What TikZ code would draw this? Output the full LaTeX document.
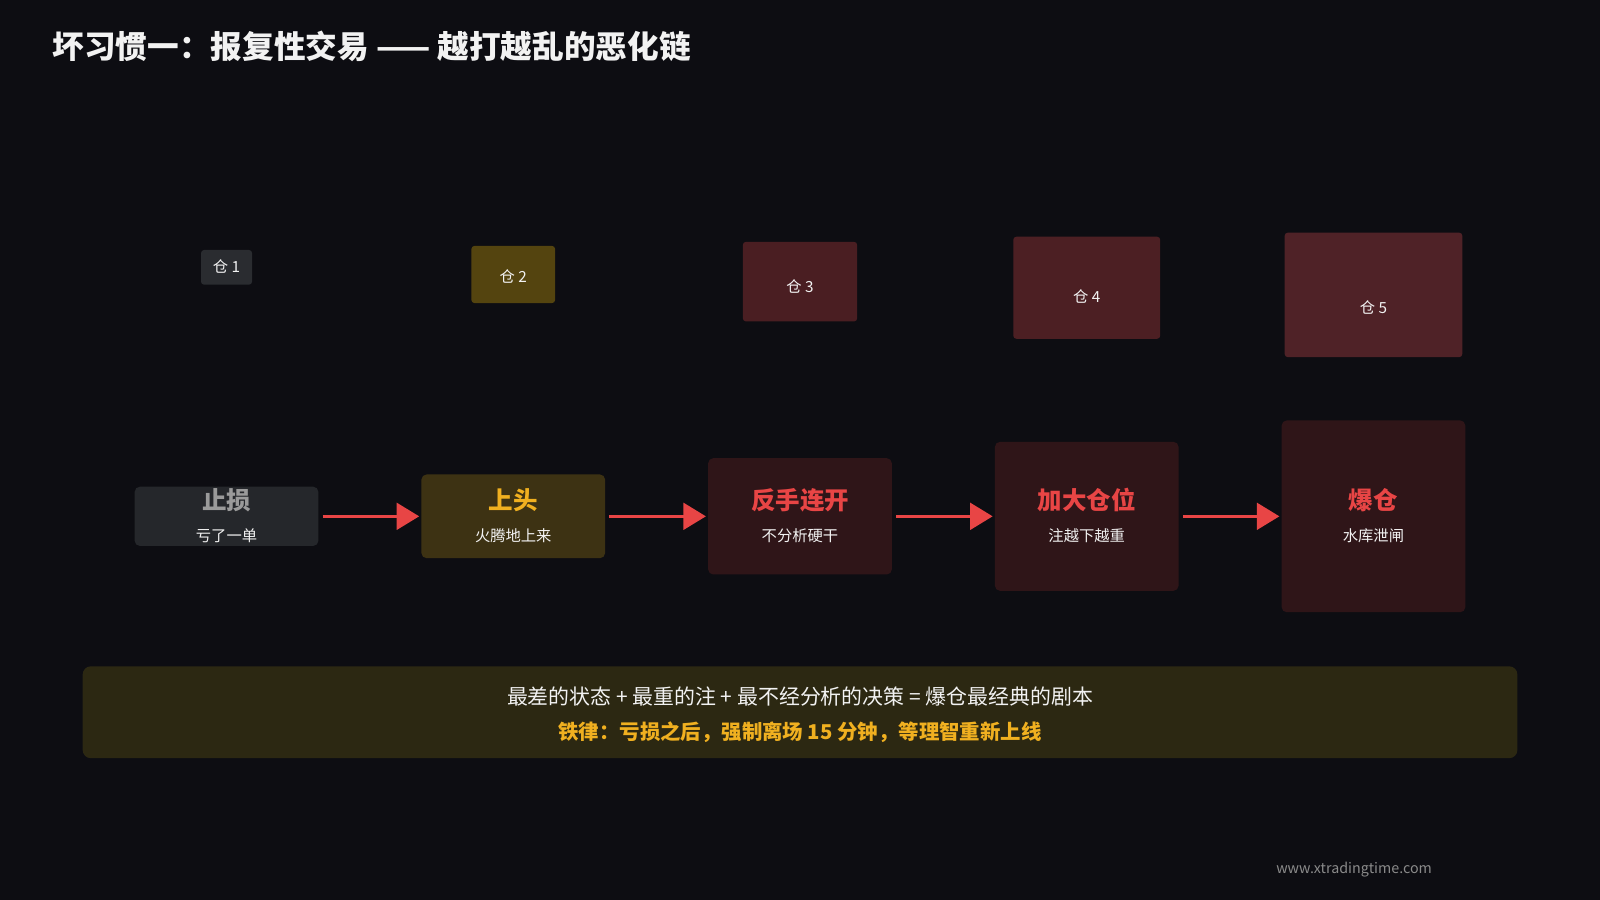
\documentclass[tikz,border=0pt]{standalone}
\usepackage{fontspec}
\setmainfont{Noto Sans CJK SC}
\usetikzlibrary{arrows.meta}
\definecolor{bg}{HTML}{0D0D12}
\definecolor{arr}{HTML}{E84545}
\definecolor{ttl}{HTML}{F2F2F2}
\definecolor{gry}{HTML}{9A9A9A}
\definecolor{ylw}{HTML}{F0B020}
\definecolor{ftc}{HTML}{8A8A8A}
\definecolor{c1}{HTML}{2A2C30}\definecolor{c2}{HTML}{54440F}\definecolor{c3}{HTML}{4A1E22}\definecolor{c4}{HTML}{4C1F23}\definecolor{c5}{HTML}{4F2227}
\definecolor{s1}{HTML}{25272B}\definecolor{s2}{HTML}{3D3213}\definecolor{s3}{HTML}{2F1518}
\definecolor{bn}{HTML}{2C2812}
\begin{document}
\begin{tikzpicture}[x=1pt,y=-1pt,
 posbox/.style={rounded corners=3pt,inner sep=0pt},
 poslbl/.style={font=\fontsize{15}{18}\selectfont,text=ttl},
 stepbox/.style={rounded corners=5pt,inner sep=0pt,minimum width=180pt,align=center},
 hd/.style={font=\fontsize{24}{28}\selectfont\bfseries},
 sb/.style={font=\fontsize{15}{18}\selectfont,text=ttl},
 ar/.style={arr,line width=3pt,-{Triangle[length=22pt,width=26pt]},shorten <=4pt,shorten >=2pt}]
\fill[bg] (0,0) rectangle (1568,882);
\useasboundingbox (0,0) rectangle (1568,882);
\node[anchor=west,text=ttl,font=\fontsize{31}{34}\selectfont\bfseries] (title) at (48,45) {坏习惯一：报复性交易 —— 越打越乱的恶化链};
\node[posbox,fill=c1,minimum width=50pt,minimum height=34pt] (p1) at (222,262) {};
\node[posbox,fill=c2,minimum width=82pt,minimum height=56pt] (p2) at (503,269) {};
\node[posbox,fill=c3,minimum width=112pt,minimum height=78pt] (p3) at (784,276) {};
\node[posbox,fill=c4,minimum width=144pt,minimum height=100pt] (p4) at (1065,282) {};
\node[posbox,fill=c5,minimum width=174pt,minimum height=122pt] (p5) at (1346,289) {};
\node[poslbl] (q1) at (222,261) {仓 1};
\node[poslbl] (q2) at (503,271) {仓 2};
\node[poslbl] (q3) at (784,281) {仓 3};
\node[poslbl] (q4) at (1065,291) {仓 4};
\node[poslbl] (q5) at (1346,301) {仓 5};
\node[stepbox,fill=s1,minimum height=58pt] (b1) at (222,506) {};
\node[stepbox,fill=s2,minimum height=82pt] (b2) at (503,506) {};
\node[stepbox,fill=s3,minimum height=114pt] (b3) at (784,506) {};
\node[stepbox,fill=s3,minimum height=146pt] (b4) at (1065,506) {};
\node[stepbox,fill=s3,minimum height=188pt] (b5) at (1346,506) {};
\node[hd,text=gry] (h1) at (222,490) {止损};
\node[sb] (t1) at (222,525) {亏了一单};
\node[hd,text=ylw] (h2) at (503,490) {上头};
\node[sb] (t2) at (503,525) {火腾地上来};
\node[hd,text=arr] (h3) at (784,490) {反手连开};
\node[sb] (t3) at (784,525) {不分析硬干};
\node[hd,text=arr] (h4) at (1065,490) {加大仓位};
\node[sb] (t4) at (1065,525) {注越下越重};
\node[hd,text=arr] (h5) at (1346,490) {爆仓};
\node[sb] (t5) at (1346,525) {水库泄闸};
\draw[ar] (b1) -- (b2);
\draw[ar] (b2) -- (b3);
\draw[ar] (b3) -- (b4);
\draw[ar] (b4) -- (b5);
\node[fill=bn,rounded corners=8pt,minimum width=1406pt,minimum height=90pt,inner sep=0pt] (banner) at (784,698) {};
\node[text=ttl,font=\fontsize{20.5}{24}\selectfont] (l1) at (784,683) {最差的状态 + 最重的注 + 最不经分析的决策 = 爆仓最经典的剧本};
\node[text=ylw,font=\fontsize{20}{24}\selectfont\bfseries] (l2) at (784,718) {铁律：亏损之后，强制离场 15 分钟，等理智重新上线};
\node[text=ftc,font=\fontsize{14}{16}\selectfont] (ft) at (1327,852) {www.xtradingtime.com};
\end{tikzpicture}
\end{document}
